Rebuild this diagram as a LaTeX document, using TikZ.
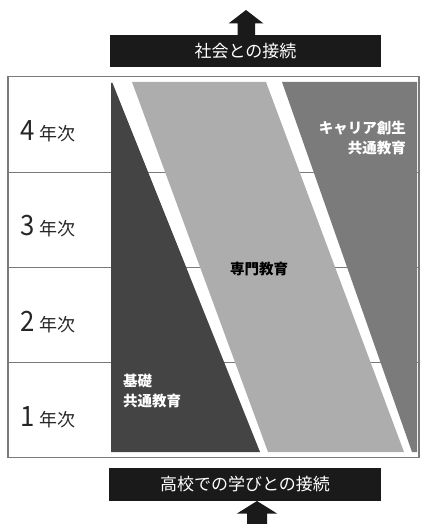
\documentclass[tikz,border=0pt]{standalone}
\usepackage{fontspec}
\setmainfont{Noto Sans CJK JP}
\usepackage{graphicx}
\definecolor{darkband}{HTML}{444444}
\definecolor{lightband}{HTML}{ADADAD}
\definecolor{midband}{HTML}{7B7B7B}
\definecolor{boxblack}{HTML}{1A1A1A}
\definecolor{framegray}{HTML}{7A7A7A}
\tikzset{
  rowline/.style={draw=framegray, line width=1pt},
  yearlabel/.style={anchor=base west, inner sep=0pt, text=black!85},
  bandtext/.style={inner sep=0pt, font=\fontsize{14.5}{20}\selectfont\bfseries, align=left},
  boxtext/.style={inner sep=0pt, text=white, font=\fontsize{17}{17}\selectfont},
}
\newcommand{\yr}[1]{\scalebox{0.92}[1]{\fontsize{28}{28}\selectfont #1}\hspace{5pt}{\fontsize{18}{18}\selectfont 年次}}
\begin{document}
\begin{tikzpicture}[x=1pt, y=-1pt]
\useasboundingbox (0,0) rectangle (420,524);
% row separators (under the bands)
\draw[rowline] (8,172) -- (419,172);
\draw[rowline] (8,267) -- (419,267);
\draw[rowline] (8,362.5) -- (419,362.5);
% bands
\fill[darkband] (111,83) -- (112.5,83) -- (260,452) -- (111,452) -- cycle;
\fill[lightband] (132,82) -- (266,82) -- (404,452) -- (268,452) -- cycle;
\fill[midband] (282,82) -- (417,82) -- (417,452) -- (412,452) -- cycle;
% frame
\draw[framegray, line width=1.5pt] (8,76.5) rectangle (419,457.5);
% year labels
\node[yearlabel] (y4) at (20,140) {\yr{4}};
\node[yearlabel] (y3) at (20,235.5) {\yr{3}};
\node[yearlabel] (y2) at (20,331) {\yr{2}};
\node[yearlabel] (y1) at (20,426) {\yr{1}};
% band labels
\node[bandtext, text=white, align=right, anchor=north east] (career) at (406,121) {キャリア創生\\共通教育};
\node[bandtext, text=black] (senmon) at (259,269) {専門教育};
\node[bandtext, text=white, anchor=north west] (kiso) at (123,374) {基礎\\共通教育};
% top box and arrow
\fill[boxblack] (246,10) -- (263.5,23.5) -- (255,23.5) -- (255,36) -- (237.5,36) -- (237.5,23.5) -- (228.5,23.5) -- cycle;
\node[fill=boxblack, minimum width=271pt, minimum height=32pt, inner sep=0pt] (society) at (245.5,51) {};
\node[boxtext] (societytext) at (society.center) {社会との接続};
% bottom box and arrow
\fill[boxblack] (257,501) -- (277,513.5) -- (267,513.5) -- (267,524) -- (247,524) -- (247,513.5) -- (237,513.5) -- cycle;
\node[fill=boxblack, minimum width=272pt, minimum height=33pt, inner sep=0pt] (school) at (245,484.5) {};
\node[boxtext] (schooltext) at (school.center) {高校での学びとの接続};
\end{tikzpicture}
\end{document}
